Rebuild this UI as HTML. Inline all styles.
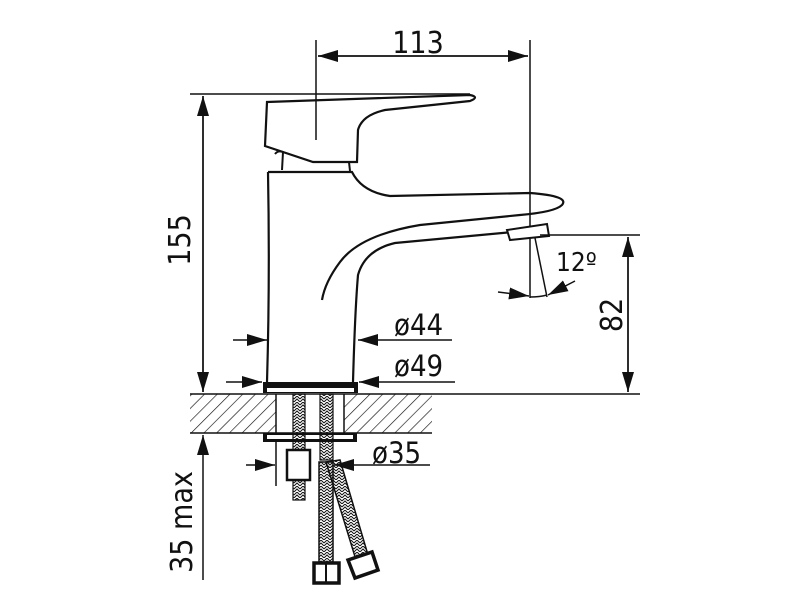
<!DOCTYPE html>
<html><head><style>
html,body{margin:0;padding:0;background:#fff;}
svg{display:block;}
text{font-family:"DejaVu Sans Condensed","Liberation Sans Narrow","Liberation Sans",sans-serif;fill:#111;}
</style></head><body>
<svg width="800" height="600" viewBox="0 0 800 600" xmlns="http://www.w3.org/2000/svg">
<defs>
<pattern id="h" width="9" height="9" patternUnits="userSpaceOnUse" patternTransform="rotate(45)">
<line x1="0" y1="0" x2="0" y2="9" stroke="#111" stroke-width="1.3"/>
</pattern>
<pattern id="br" width="6" height="6" patternUnits="userSpaceOnUse">
<path d="M0 3 L3 0 L6 3 M0 6 L3 3 L6 6" stroke="#111" stroke-width="1" fill="none"/>
</pattern>
<marker id="a" markerWidth="20" markerHeight="12" refX="20" refY="6" orient="auto" markerUnits="userSpaceOnUse">
<path d="M0 0 L20 6 L0 12 Z" fill="#111"/>
</marker>
</defs>
<g stroke="#111" fill="none" stroke-width="1.5">
<rect x="190" y="394" width="242" height="39" fill="url(#h)" stroke="none"/>
<rect x="276" y="394" width="68" height="39" fill="#fff" stroke="none"/>
<line x1="190" y1="394" x2="640" y2="394"/>
<line x1="190" y1="433" x2="432" y2="433"/>
<line x1="276" y1="394" x2="276" y2="433"/>
<line x1="344" y1="394" x2="344" y2="433"/>
<line x1="316" y1="40" x2="316" y2="140"/>
<line x1="530" y1="40" x2="530" y2="298"/>
<line x1="318" y1="56" x2="528" y2="56" marker-end="url(#a)"/>
<line x1="528" y1="56" x2="318" y2="56" marker-end="url(#a)"/>
<line x1="190" y1="94" x2="470" y2="94"/>
<line x1="203" y1="96" x2="203" y2="392" marker-end="url(#a)"/>
<line x1="203" y1="392" x2="203" y2="96" marker-end="url(#a)"/>
<path d="M267 102 L470 95 Q480 97 470 101 L385 110 Q362 115 358 130 L357 162 L313 162 L265 146 Z" stroke-width="2.2"/>
<path d="M275 154 Q278 150 283 152 L282 170" stroke-width="2"/>
<line x1="349" y1="162" x2="350" y2="171" stroke-width="2"/>
<path d="M268 172 L352 172 Q362 192 390 196 L530 193 Q570 196 562 205 Q555 212 520 215 L420 225 Q360 235 340 262 Q325 282 322 300" stroke-width="2.2"/>
<path d="M268 172 Q270 280 267 382" stroke-width="2.2"/>
<path d="M353 382 Q355 310 358 275 Q365 250 395 243 L513 232" stroke-width="2.2"/>
<path d="M507 230 L547 224 L549 236 L510 240 Z" stroke-width="2" fill="#fff"/>
<rect x="263" y="382" width="95" height="11" fill="#111" stroke="none"/>
<rect x="267" y="388" width="87" height="4" fill="#fff" stroke="none"/>
<line x1="535" y1="238" x2="547" y2="297"/>
<path d="M530 297 Q540 297 547 295"/>
<line x1="498" y1="292" x2="529" y2="296" marker-end="url(#a)"/>
<line x1="575" y1="281" x2="548" y2="295" marker-end="url(#a)"/>
<line x1="540" y1="235" x2="640" y2="235"/>
<line x1="628" y1="237" x2="628" y2="392" marker-end="url(#a)"/>
<line x1="628" y1="392" x2="628" y2="237" marker-end="url(#a)"/>
<line x1="233" y1="340" x2="267" y2="340" marker-end="url(#a)"/>
<line x1="452" y1="340" x2="358" y2="340" marker-end="url(#a)"/>
<line x1="226" y1="382" x2="262" y2="382" marker-end="url(#a)"/>
<line x1="455" y1="382" x2="359" y2="382" marker-end="url(#a)"/>
<rect x="263" y="433" width="94" height="9" fill="#111" stroke="none"/>
<rect x="267" y="435" width="86" height="4" fill="#fff" stroke="none"/>
<rect x="293" y="394" width="12" height="106" fill="url(#br)" stroke-width="1.2"/>
<rect x="287" y="450" width="23" height="30" fill="#fff" stroke-width="2.5"/>
<rect x="320" y="394" width="13" height="66" fill="url(#br)" stroke-width="1.2"/>
<rect x="319" y="462" width="14" height="100" fill="url(#br)" stroke-width="1.5"/>
<path d="M326 462 L340 460 L368 555 L356 560 Z" fill="url(#br)" stroke-width="1.5"/>
<rect x="314" y="563" width="25" height="20" fill="#fff" stroke-width="3.5"/>
<line x1="326" y1="563" x2="326" y2="583" stroke-width="2"/>
<path d="M348 560 L372 552 L378 570 L355 578 Z" fill="#fff" stroke-width="3.5"/>
<line x1="276" y1="440" x2="276" y2="486"/>
<line x1="246" y1="465" x2="275" y2="465" marker-end="url(#a)"/>
<line x1="430" y1="465" x2="334" y2="465" marker-end="url(#a)"/>
<line x1="203" y1="580" x2="203" y2="435" marker-end="url(#a)"/>
</g>
<text x="418" y="53" font-size="30" text-anchor="middle">113</text>
<text transform="translate(190,240) rotate(-90)" font-size="30" text-anchor="middle">155</text>
<text x="556" y="271" font-size="26">12º</text>
<text transform="translate(622,315) rotate(-90)" font-size="30" text-anchor="middle">82</text>
<text x="394" y="335" font-size="29">ø44</text>
<text x="394" y="376" font-size="29">ø49</text>
<text x="372" y="463" font-size="29">ø35</text>
<text transform="translate(192,522) rotate(-90)" font-size="30" text-anchor="middle">35 max</text>
</svg>
</body></html>
